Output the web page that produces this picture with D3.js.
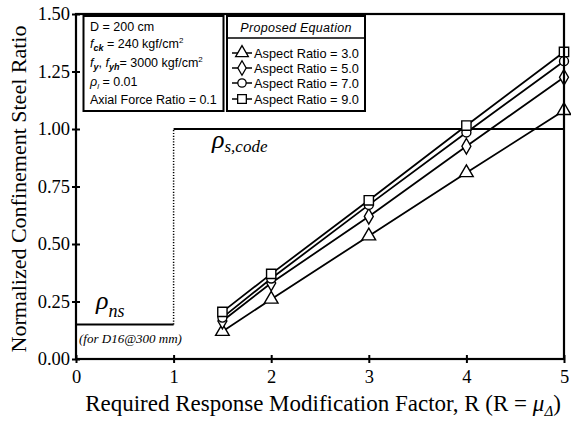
<!DOCTYPE html>
<html>
<head>
<meta charset="utf-8">
<script src="https://cdn.jsdelivr.net/npm/d3@7"></script>
<style>
  html, body { margin: 0; padding: 0; background: #fff; }
  svg { display: block; }
</style>
</head>
<body>
<svg id="chart" width="571" height="421"></svg>
<script>
const SERIF = "'Liberation Serif', 'Times New Roman', serif";
const SANS = "'Liberation Sans', Arial, sans-serif";

// Required response modification factor R
const rValues = [1.5, 2, 3, 4, 5];
// Normalized confinement steel ratio from the proposed equation, per aspect ratio
const aspect3 = [0.12, 0.26, 0.535, 0.81, 1.08];
const aspect5 = [0.165, 0.33, 0.62, 0.925, 1.225];
const aspect7 = [0.18, 0.35, 0.67, 0.985, 1.295];
const aspect9 = [0.205, 0.37, 0.69, 1.015, 1.335];
const seriesNames = ["Aspect Ratio = 3.0", "Aspect Ratio = 5.0", "Aspect Ratio = 7.0", "Aspect Ratio = 9.0"];
const seriesSymbols = ["triangle", "diamond", "circle", "square"];
// Reference levels: code requirement and nominal (D16@300 mm)
const codeLevel = 1.0;
const codeFromR = 1;
const nsLevel = 0.15;
const xTicks = [0, 1, 2, 3, 4, 5];
const yTicks = [0, 0.25, 0.5, 0.75, 1.0, 1.25, 1.5];

const svg = d3.select("#chart");
const x = d3.scaleLinear().domain([0, 5]).range([76, 564]);
const y = d3.scaleLinear().domain([0, 1.5]).range([359, 14]);

const symbolTypes = {
  triangle: d3.symbolTriangle,
  diamond: d3.symbolDiamond,
  circle: d3.symbolCircle,
  square: d3.symbolSquare
};
const symbolSizes = { triangle: 70, diamond: 60, circle: 55, square: 75 };

// Reference lines
const line = d3.line().x(d => x(d[0])).y(d => y(d[1]));
svg.append("path")
  .attr("d", line([[codeFromR, codeLevel], [5, codeLevel]]))
  .attr("fill", "none").attr("stroke", "#000").attr("stroke-width", 1.8);
svg.append("path")
  .attr("d", line([[0, nsLevel], [codeFromR, nsLevel]]))
  .attr("fill", "none").attr("stroke", "#000").attr("stroke-width", 1.8);
svg.append("path")
  .attr("d", line([[codeFromR, nsLevel], [codeFromR, codeLevel]]))
  .attr("fill", "none").attr("stroke", "#000").attr("stroke-width", 1.5)
  .attr("stroke-dasharray", "1.2,1.6");

// Series
const series = [aspect3, aspect5, aspect7, aspect9].map((vals, i) => ({
  name: seriesNames[i], symbol: seriesSymbols[i],
  points: rValues.map((r, j) => [r, vals[j]])
}));

series.forEach(s => {
  svg.append("path")
    .attr("d", line(s.points))
    .attr("fill", "none").attr("stroke", "#000").attr("stroke-width", 1.8);
});
series.forEach(s => {
  svg.selectAll(null).data(s.points).enter().append("path")
    .attr("d", d3.symbol(symbolTypes[s.symbol], symbolSizes[s.symbol] * 1.15))
    .attr("transform", d => `translate(${x(d[0])},${y(d[1])})`)
    .attr("fill", "#fff").attr("stroke", "#000").attr("stroke-width", 1.4);
});

// Axes with ticks crossing the frame
const xAxis = svg.append("g").attr("transform", `translate(0,${y(0)})`)
  .call(d3.axisBottom(x).tickValues(xTicks).tickFormat(d3.format("d")).tickSizeInner(4).tickSizeOuter(0));
xAxis.attr("font-family", SERIF).attr("font-size", 18.5);
xAxis.selectAll(".tick line").attr("y1", -4).attr("stroke-width", 2);
xAxis.selectAll(".tick text").attr("dy", "0.72em").attr("y", 11).attr("fill", "#000");

const yAxis = svg.append("g").attr("transform", `translate(${x(0)},0)`)
  .call(d3.axisLeft(y).tickValues(yTicks).tickFormat(d3.format(".2f")).tickSizeInner(4).tickSizeOuter(0));
yAxis.attr("font-family", SERIF).attr("font-size", 18.5);
yAxis.selectAll(".tick line").attr("x1", 4).attr("stroke-width", 2);
yAxis.selectAll(".tick text").attr("x", -6).attr("fill", "#000");
svg.selectAll(".domain").remove();

// Frame
svg.append("rect")
  .attr("x", x(0)).attr("y", y(1.5))
  .attr("width", x(5) - x(0)).attr("height", y(0) - y(1.5))
  .attr("fill", "none").attr("stroke", "#000").attr("stroke-width", 2.2);

// Axis titles
svg.append("text").attr("font-family", SERIF)
  .attr("x", 323).attr("y", 411).attr("text-anchor", "middle").attr("font-size", 23)
  .call(t => {
    t.append("tspan").text("Required Response Modification Factor, R (R = ");
    t.append("tspan").attr("font-style", "italic").text("μ");
    t.append("tspan").attr("font-style", "italic").attr("font-size", 15).attr("dy", 5).text("Δ");
    t.append("tspan").attr("dy", -5).text(")");
  });
svg.append("text").attr("font-family", SERIF)
  .attr("transform", "translate(26,189) rotate(-90)")
  .attr("text-anchor", "middle").attr("font-size", 22)
  .text("Normalized Confinement Steel Ratio");

// Reference level labels
svg.append("text").attr("font-family", SERIF).attr("font-style", "italic")
  .attr("x", 212).attr("y", 148).attr("font-size", 26)
  .call(t => {
    t.append("tspan").text("ρ");
    t.append("tspan").attr("font-size", 17).attr("dy", 4).text("s,code");
  });
svg.append("text").attr("font-family", SERIF).attr("font-style", "italic")
  .attr("x", 96).attr("y", 309).attr("font-size", 26)
  .call(t => {
    t.append("tspan").text("ρ");
    t.append("tspan").attr("font-size", 18).attr("dy", 8).text("ns");
  });
svg.append("text").attr("font-family", SERIF).attr("font-style", "italic")
  .attr("x", 79).attr("y", 343).attr("font-size", 13)
  .text("(for D16@300 mm)");

// Parameter box
svg.append("rect").attr("x", 83.5).attr("y", 16).attr("width", 140).attr("height", 95)
  .attr("fill", "#fff").attr("stroke", "#000").attr("stroke-width", 2);
const params = svg.append("g").attr("font-family", SANS).attr("font-size", 12.5);
params.append("text").attr("x", 90).attr("y", 31).text("D = 200 cm");
params.append("text").attr("x", 90).attr("y", 48).call(t => {
  t.append("tspan").attr("font-style", "italic").text("f");
  t.append("tspan").attr("font-style", "italic").attr("font-weight", "bold").attr("font-size", 9).attr("dy", 3).text("ck");
  t.append("tspan").attr("dy", -3).text(" = 240 kgf/cm");
  t.append("tspan").attr("font-size", 8).attr("dy", -5).text("2");
});
params.append("text").attr("x", 90).attr("y", 67).call(t => {
  t.append("tspan").attr("font-style", "italic").text("f");
  t.append("tspan").attr("font-style", "italic").attr("font-weight", "bold").attr("font-size", 9).attr("dy", 3).text("y");
  t.append("tspan").attr("dy", -3).text(", ");
  t.append("tspan").attr("font-style", "italic").text("f");
  t.append("tspan").attr("font-style", "italic").attr("font-weight", "bold").attr("font-size", 9).attr("dy", 3).text("yh");
  t.append("tspan").attr("dy", -3).text("= 3000 kgf/cm");
  t.append("tspan").attr("font-size", 8).attr("dy", -5).text("2");
});
params.append("text").attr("x", 90).attr("y", 86).call(t => {
  t.append("tspan").attr("font-style", "italic").text("ρ");
  t.append("tspan").attr("font-style", "italic").attr("font-size", 8).attr("dy", 3).text("l");
  t.append("tspan").attr("dy", -3).text(" = 0.01");
});
params.append("text").attr("x", 90).attr("y", 104).text("Axial Force Ratio = 0.1");

// Legend
svg.append("rect").attr("x", 227).attr("y", 16).attr("width", 138).attr("height", 95)
  .attr("fill", "#fff").attr("stroke", "#000").attr("stroke-width", 2);
svg.append("line").attr("x1", 227).attr("x2", 365).attr("y1", 38).attr("y2", 38)
  .attr("stroke", "#000").attr("stroke-width", 1.5);
svg.append("text").attr("font-family", SANS).attr("font-style", "italic").attr("font-size", 12.5)
  .attr("x", 296).attr("y", 32).attr("text-anchor", "middle").attr("letter-spacing", 0.3)
  .text("Proposed Equation");
const legendY = [53, 68, 83, 99];
const legend = svg.append("g").selectAll("g").data(series).enter().append("g")
  .attr("transform", (d, i) => `translate(0,${legendY[i]})`);
legend.append("line").attr("x1", 232).attr("x2", 252).attr("y1", 0).attr("y2", 0)
  .attr("stroke", "#000").attr("stroke-width", 1.5);
legend.append("path")
  .attr("d", d => d3.symbol(symbolTypes[d.symbol], symbolSizes[d.symbol])())
  .attr("transform", "translate(242,0)")
  .attr("fill", "#fff").attr("stroke", "#000").attr("stroke-width", 1.3);
legend.append("text").attr("font-family", SANS).attr("font-size", 12.8)
  .attr("x", 254).attr("y", 4.5).text(d => d.name);
</script>
</body>
</html>
